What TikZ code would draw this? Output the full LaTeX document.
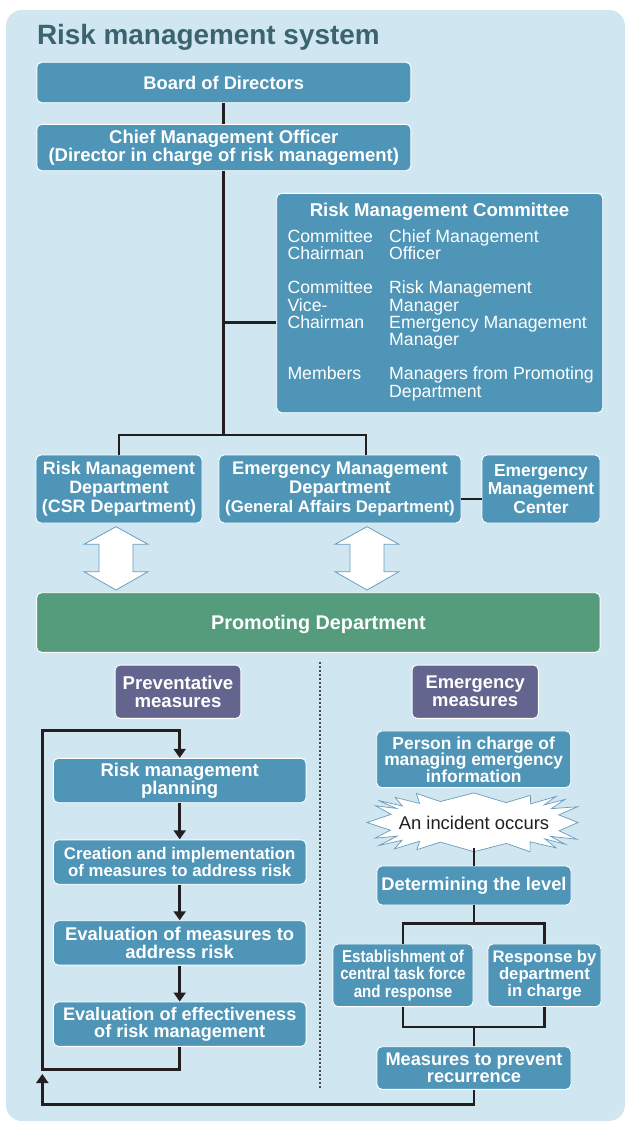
\documentclass[tikz,border=0pt]{standalone}
\usepackage{fontspec}
\setmainfont{Liberation Sans}
\newfontfamily\condf[FakeStretch=0.88]{Liberation Sans}
\usetikzlibrary{arrows.meta,calc}
\definecolor{bgc}{RGB}{208,231,242}
\definecolor{boxc}{RGB}{79,149,183}
\definecolor{titlec}{RGB}{60,100,112}
\definecolor{purc}{RGB}{100,101,143}
\definecolor{greenc}{RGB}{85,156,125}
\definecolor{linec}{RGB}{35,31,32}
\definecolor{arrc}{RGB}{105,155,188}
\definecolor{dotc}{RGB}{70,70,75}
\begin{document}
\begin{tikzpicture}[x=1pt,y=-1pt,
  tree/.style={draw=linec, line width=2.8pt},
  conn/.style={draw=linec, line width=2.6pt},
  arr/.style={conn, -{Triangle[width=12pt,length=9pt]}},
  bx/.style={draw=white, line width=0.9pt, fill=boxc, rounded corners=5pt, text=white, align=center, inner sep=0pt, font=\bfseries\fontsize{18.3}{18.4}\selectfont},
  pbx/.style={bx, fill=purc},
  ctxt/.style={text=white, align=left, inner sep=0pt, anchor=north west, font=\fontsize{17.7}{17.4}\selectfont},
  dblarr/.pic={\draw[draw=arrc, fill=white, line width=0.8pt] (0,-31.65) -- (32,-14.05) -- (17,-14.05) -- (17,13.35) -- (32,13.35) -- (0,31.65) -- (-32,13.35) -- (-17,13.35) -- (-17,-14.05) -- (-32,-14.05) -- cycle;}
]
\useasboundingbox (0,0) rectangle (627,1124);
\fill[bgc, rounded corners=16pt] (6,10) rectangle (625,1121);

% title
\node[anchor=base west, inner sep=0pt, text=titlec, font=\bfseries\fontsize{27.9}{28}\selectfont] (title) at (36.8,45) {Risk management system};

% top
\node[bx, minimum width=374pt, minimum height=40.4pt] (bod) at (223.8,82.5) {Board of Directors};
\node[bx, minimum width=374pt, minimum height=46.4pt, font=\bfseries\fontsize{18.5}{18}\selectfont] (cmo) at (223.8,147.5) {Chief Management Officer\\(Director in charge of risk management)};

% committee
\node[bx, minimum width=326pt, minimum height=219.4pt] (rmc) at (439.7,303) {};
\node[anchor=base, inner sep=0pt, text=white, font=\bfseries\fontsize{18.6}{18.6}\selectfont] (rmct) at (439.5,216.7) {Risk Management Committee};
\node[ctxt] (cl1) at (287.3,229) {Committee\\Chairman};
\node[ctxt] (cr1) at (389,229) {Chief Management\\Officer};
\node[ctxt] (cl2) at (287.3,280.6) {Committee\\Vice-\\Chairman};
\node[ctxt] (cr2) at (389,280.6) {Risk Management\\Manager\\Emergency Management\\Manager};
\node[ctxt] (cl3) at (287.3,366.6) {Members};
\node[ctxt] (cr3) at (389,366.6) {Managers from Promoting\\Department};

% departments
\node[bx, minimum width=166pt, minimum height=68pt, font=\bfseries\fontsize{17.9}{19}\selectfont] (rmd) at (119,489) {Risk Management\\Department\\(CSR Department)};
\node[bx, minimum width=242pt, minimum height=68pt, font=\bfseries\fontsize{18.3}{19}\selectfont] (emd) at (340,489) {Emergency Management\\Department\\{\fontsize{16.8}{19}\selectfont(General Affairs Department)}};
\node[bx, minimum width=118pt, minimum height=68pt, font=\bfseries\fontsize{17.4}{18.5}\selectfont] (emc) at (541,489) {Emergency\\Management\\Center};

% tree connectors
\coordinate (hj) at (cmo.south |- 0,435);
\coordinate (rb) at (rmc.west |- 0,322.7);
\draw[tree] (bod) -- (cmo);
\draw[tree] (cmo.south) -- (hj);
\draw[tree] (cmo.south |- rb) -- (rb);
\draw[tree] (rmd.north) |- (hj) -| ($(emd.north)+(26,0)$);
\draw[tree] (emd.east |- 0,499) -- (emc.west |- 0,499);

% double arrows
\pic at (116,558.35) {dblarr};
\pic at (367,558.35) {dblarr};

% promoting
\node[bx, fill=greenc, minimum width=563.5pt, minimum height=59.6pt, text depth=0pt, font=\bfseries\fontsize{19.8}{20}\selectfont] (prom) at (318.4,622.5) {Promoting Department};

% divider
\coordinate (dv1) at (320,662);
\coordinate (dv2) at (320,1090);
\draw[draw=dotc, line width=1.2pt, dash pattern=on 2pt off 2pt] (dv1) -- (dv2);

% left column
\node[pbx, minimum width=125.7pt, minimum height=53.3pt, font=\bfseries\fontsize{18.6}{18}\selectfont] (prev) at (178,691.7) {Preventative\\measures};
\node[bx, minimum width=252.7pt, minimum height=44.4pt, font=\bfseries\fontsize{18.5}{17.5}\selectfont] (rmp) at (179.7,780.5) {Risk management\\planning};
\node[bx, minimum width=252.7pt, minimum height=44.4pt, font=\bfseries\fontsize{16.8}{17.5}\selectfont] (cre) at (179.7,862) {Creation and implementation\\of measures to address risk};
\node[bx, minimum width=252.7pt, minimum height=44.4pt, font=\bfseries\fontsize{18.4}{17.5}\selectfont] (evm) at (179.7,942.9) {Evaluation of measures to\\address risk};
\node[bx, minimum width=252.7pt, minimum height=44.4pt, font=\bfseries\fontsize{18.1}{17.5}\selectfont] (eff) at (179.7,1024.2) {Evaluation of effectiveness\\of risk management};

\draw[arr] (rmp) -- (cre);
\draw[arr] (cre) -- (evm);
\draw[arr] (evm) -- (eff);
\coordinate (lt) at (42.3,730.7);
\coordinate (lb) at (42.3,1074);
\draw[arr] (eff.south) -- ++(0,22.6) -| (lt) -| (rmp.north);

% right column
\node[pbx, minimum width=126.3pt, minimum height=53.3pt, font=\bfseries\fontsize{18.4}{18}\selectfont] (emm) at (475.2,691.7) {Emergency\\measures};
\node[bx, minimum width=194pt, minimum height=56.7pt, font=\bfseries\fontsize{17.4}{16.5}\selectfont] (pic) at (473.7,759.3) {Person in charge of\\managing emergency\\information};

\draw[draw=arrc, fill=white, line width=0.7pt]
  plot[samples=40, domain=0:39, variable=\k]
  ({474 + (1-0.2*mod(round(\k),2))*(1+0.03*sin(\k*77))*104*cos(\k*9)*pow(abs(cos(\k*9))+0.0001,-0.5)},
   {822.5 + (1-0.3*mod(round(\k),2))*(1+0.04*sin(\k*53))*29*sin(\k*9)*pow(abs(sin(\k*9))+0.0001,-0.5)}) -- cycle;
\node[inner sep=0pt, minimum height=51pt, text depth=0pt, text=linec, font=\fontsize{18.4}{18}\selectfont] (inc) at (474,822.5) {An incident occurs};

\node[bx, minimum width=194pt, minimum height=39pt] (det) at (474,885.5) {Determining the level};
\node[bx, minimum width=140pt, minimum height=62.7pt, font=\condf\bfseries\fontsize{17.2}{17.4}\selectfont] (est) at (403,975.3) {Establishment of\\central task force\\and response};
\node[bx, minimum width=113pt, minimum height=62.7pt, font=\bfseries\fontsize{16.7}{17.4}\selectfont] (resp) at (544.5,975.3) {Response by\\department\\in charge};
\node[bx, minimum width=194pt, minimum height=42.6pt, font=\bfseries\fontsize{18.2}{17.5}\selectfont] (mpr) at (474,1068) {Measures to prevent\\recurrence};

\draw[conn] (inc.south) -- (det.north);
\draw[conn] (det.south) -- ++(0,18.3) coordinate (dj);
\draw[conn] (est.north) |- (dj) -| (resp.north);
\draw[conn] (est.south) -- ++(0,20) coordinate (ej) -| (resp.south);
\draw[conn] (mpr.north) -- (mpr.north |- ej);
\draw[arr] (mpr.south) -- ++(0,14.7) -| (lb);
\end{tikzpicture}
\end{document}
